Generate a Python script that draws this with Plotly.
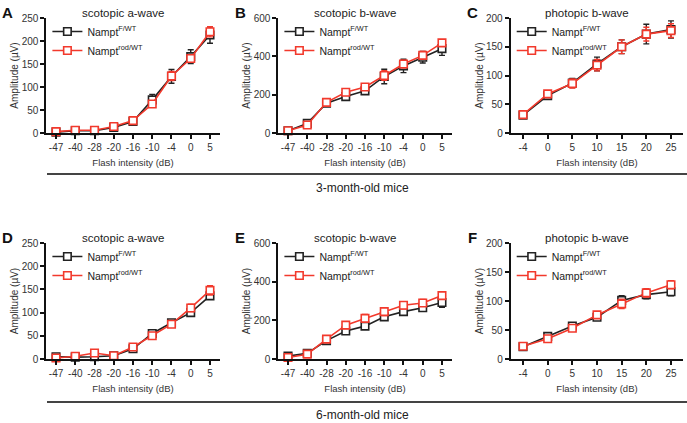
import plotly.graph_objects as go

W, H = 687, 423

# ---------------- data ----------------
scot_x = ["-47", "-40", "-28", "-20", "-16", "-10", "-4", "0", "5"]
phot_x = ["-4", "0", "5", "10", "15", "20", "25"]

# 3-month-old
a3_wt = [2, 5, 5, 12, 25, 72, 123, 166, 213]
a3_wt_err = [2, 2, 2, 3, 3, 12, 15, 15, 18]
a3_rod = [3, 6, 6, 14, 27, 63, 124, 162, 220]
a3_rod_err = [2, 2, 2, 3, 3, 5, 10, 8, 11]

b3_wt = [12, 50, 155, 190, 220, 295, 350, 395, 440]
b3_wt_err = [5, 8, 10, 15, 15, 38, 35, 30, 35]
b3_rod = [12, 42, 160, 213, 240, 300, 360, 405, 470]
b3_rod_err = [5, 8, 10, 10, 10, 25, 20, 20, 15]

p3_wt = [31, 65, 87, 120, 150, 172, 180]
p3_wt_err = [3, 4, 8, 12, 12, 17, 15]
p3_rod = [32, 68, 86, 118, 150, 172, 178]
p3_rod_err = [3, 4, 8, 10, 12, 12, 12]

# 6-month-old
a6_wt = [5, 4, 5, 7, 22, 55, 78, 100, 136]
a6_wt_err = [3, 2, 3, 2, 3, 5, 5, 5, 5]
a6_rod = [2, 6, 13, 7, 26, 50, 75, 110, 148]
a6_rod_err = [2, 2, 3, 2, 3, 5, 5, 8, 10]

b6_wt = [15, 30, 95, 145, 170, 218, 245, 265, 292]
b6_wt_err = [5, 5, 10, 15, 15, 15, 15, 15, 25]
b6_rod = [8, 25, 103, 175, 210, 245, 278, 290, 328]
b6_rod_err = [5, 5, 10, 18, 20, 20, 18, 18, 18]

p6_wt = [21, 39, 57, 72, 101, 111, 116]
p6_wt_err = [3, 3, 3, 4, 8, 7, 7]
p6_rod = [22, 35, 53, 76, 95, 114, 128]
p6_rod_err = [3, 3, 3, 4, 8, 7, 7]

panel_letters = ["A", "B", "C", "D", "E", "F"]
panel_titles = ["scotopic a-wave", "scotopic b-wave", "photopic b-wave",
                "scotopic a-wave", "scotopic b-wave", "photopic b-wave"]
y_max = [250, 600, 200, 250, 600, 200]
y_step = [50, 200, 50, 50, 200, 50]
group_labels = ["3-month-old mice", "6-month-old mice"]
name_wt = "Nampt<sup>F/WT</sup>"
name_rod = "Nampt<sup>rod/WT</sup>"

panels = [
    (scot_x, a3_wt, a3_wt_err, a3_rod, a3_rod_err),
    (scot_x, b3_wt, b3_wt_err, b3_rod, b3_rod_err),
    (phot_x, p3_wt, p3_wt_err, p3_rod, p3_rod_err),
    (scot_x, a6_wt, a6_wt_err, a6_rod, a6_rod_err),
    (scot_x, b6_wt, b6_wt_err, b6_rod, b6_rod_err),
    (phot_x, p6_wt, p6_wt_err, p6_rod, p6_rod_err),
]

# ---------------- layout geometry (pixels) ----------------
col_px = [(46.4, 219.6), (278.4, 451.6), (510.7, 683.3)]
row_px = [(18, 133), (243, 359)]
FONT = "Arial, Liberation Sans, sans-serif"
BLACK = "#222222"
RED = "#f2392c"


def px(x):
    return x / W


def py(y):
    return 1 - y / H


fig = go.Figure()
layout = {}
annotations = []
shapes = []

for i, (cats, wt, wt_e, rod, rod_e) in enumerate(panels):
    r, c = divmod(i, 3)
    n = i + 1
    xa = "x" if n == 1 else f"x{n}"
    ya = "y" if n == 1 else f"y{n}"
    leg = "legend" if n == 1 else f"legend{n}"
    for vals, errs, col, name in ((wt, wt_e, BLACK, name_wt), (rod, rod_e, RED, name_rod)):
        fig.add_trace(go.Scatter(
            x=cats, y=vals, name=name, mode="lines+markers",
            line=dict(color=col, width=1.6),
            marker=dict(symbol="square", size=7.5, color="white",
                        line=dict(color=col, width=1.6)),
            error_y=dict(type="data", array=errs, color=col, thickness=1.4, width=3),
            xaxis=xa, yaxis=ya, legend=leg, cliponaxis=False,
        ))
    x0, x1 = col_px[c]
    y0, y1 = row_px[r]
    ncat = len(cats)
    layout["xaxis" if n == 1 else f"xaxis{n}"] = dict(
        domain=[px(x0), px(x1)], anchor=ya, type="category",
        range=[-0.5, ncat - 0.5], showgrid=False, zeroline=False,
        showline=True, linecolor="#111", linewidth=2,
        ticks="outside", ticklen=4, tickwidth=1.5, tickcolor="#111",
        tickfont=dict(family=FONT, size=10, color="#333"),
        title=dict(text="Flash intensity (dB)", standoff=7,
                   font=dict(family=FONT, size=9.5, color="#333")),
        automargin=False, fixedrange=True,
    )
    layout["yaxis" if n == 1 else f"yaxis{n}"] = dict(
        domain=[py(y1), py(y0)], anchor=xa,
        range=[0, y_max[i]], dtick=y_step[i], showgrid=False, zeroline=False,
        showline=True, linecolor="#111", linewidth=2,
        ticks="outside", ticklen=4, tickwidth=1.5, tickcolor="#111",
        tickfont=dict(family=FONT, size=10, color="#333"),
        title=dict(text="Amplitude (µV)", standoff=1,
                   font=dict(family=FONT, size=10, color="#333")),
        automargin=False, fixedrange=True,
    )
    layout[leg] = dict(
        x=px(x0 + 1), y=py(y0 - 1), xanchor="left", yanchor="top",
        bgcolor="rgba(0,0,0,0)", borderwidth=0,
        font=dict(family=FONT, size=10.5, color="#222"),
        tracegroupgap=0,
    )
    # panel title and letter
    annotations.append(dict(
        text=panel_titles[i], xref="paper", yref="paper",
        x=px((x0 + x1) / 2 - 10), y=py(y0 - 5), xanchor="center", yanchor="middle",
        showarrow=False, font=dict(family=FONT, size=11.5, color="#222")))
    annotations.append(dict(
        text=f"<b>{panel_letters[i]}</b>", xref="paper", yref="paper",
        x=px(x0 - 39 + (1 if c else 0)), y=py(y0 - 6), xanchor="center", yanchor="middle",
        showarrow=False, font=dict(family=FONT, size=15, color="#111")))

# group separators and labels
for r, (sep_y, lab_y) in enumerate(((174, 188), (402, 415))):
    shapes.append(dict(type="line", xref="paper", yref="paper",
                       x0=px(47), x1=1, y0=py(sep_y), y1=py(sep_y),
                       line=dict(color="#444", width=2)))
    annotations.append(dict(
        text=group_labels[r], xref="paper", yref="paper",
        x=px(362), y=py(lab_y), xanchor="center", yanchor="middle",
        showarrow=False, font=dict(family=FONT, size=12, color="#222")))

fig.update_layout(
    width=W, height=H, margin=dict(l=0, r=0, t=0, b=0),
    paper_bgcolor="white", plot_bgcolor="white",
    showlegend=True, annotations=annotations, shapes=shapes,
    font=dict(family=FONT), **layout,
)

fig.write_html("out.html", config={"displayModeBar": False},
               post_script="document.body.style.margin='0';document.body.style.overflow='hidden';")
